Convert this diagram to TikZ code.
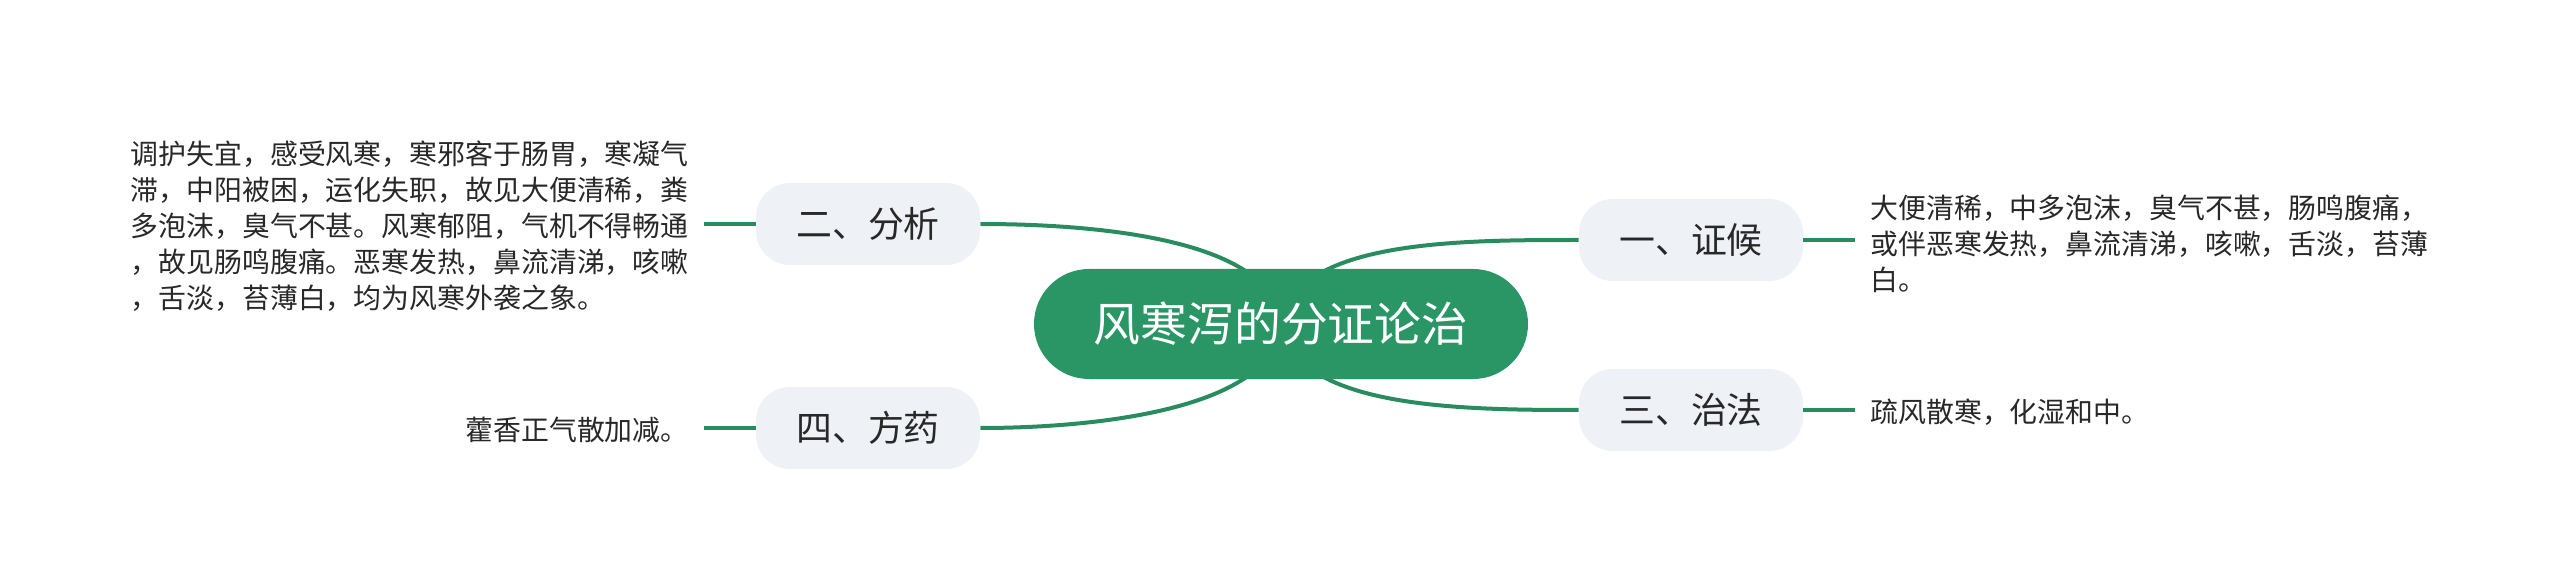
\documentclass[tikz,border=0pt]{standalone}
\usepackage{fontspec}
\newfontfamily\cjk{Noto Sans CJK SC}
\usetikzlibrary{backgrounds}
\definecolor{rootgreen}{RGB}{42,149,101}
\definecolor{linkgreen}{RGB}{40,140,95}
\definecolor{branchgray}{RGB}{238,241,245}
\definecolor{inkgray}{RGB}{40,40,40}

\begin{document}
\begin{tikzpicture}[x=0.5bp,y=-0.5bp,
   root/.style={fill=rootgreen,rounded corners=27.5bp,minimum width=247bp,
      minimum height=55bp,text=white,font=\cjk\fontsize{23.5}{28}\selectfont},
   branch/.style={fill=branchgray,rounded corners=17bp,minimum width=112bp,
      minimum height=41bp,text=inkgray,font=\cjk\fontsize{18}{22}\selectfont},
   leaf/.style={align=left,inner xsep=7.5bp,inner ysep=0pt,text=inkgray,
      font=\cjk\fontsize{14}{18}\selectfont},
   link/.style={draw=linkgreen,line width=2bp}]
   \useasboundingbox (0,0) rectangle (2560,588);

   \node[root] (root) at (1281,324) {风寒泻的分证论治};

   \node[branch] (zh) at (1691,240) {一、证候};
   \node[branch] (fx) at (868,224) {二、分析};
   \node[branch] (zf) at (1691,410) {三、治法};
   \node[branch] (fy) at (868,428) {四、方药};

   \node[leaf,anchor=west] (zht) at (1855,244)
   {大便清稀，中多泡沫，臭气不甚，肠鸣腹痛，\\
    或伴恶寒发热，鼻流清涕，咳嗽，舌淡，苔薄\\
    白。};
   \node[leaf,anchor=east] (fxt) at (704,226)
   {调护失宜，感受风寒，寒邪客于肠胃，寒凝气\\
    滞，中阳被困，运化失职，故见大便清稀，粪\\
    多泡沫，臭气不甚。风寒郁阻，气机不得畅通\\
    ，故见肠鸣腹痛。恶寒发热，鼻流清涕，咳嗽\\
    ，舌淡，苔薄白，均为风寒外袭之象。};
   \node[leaf,anchor=west] (zft) at (1855,412) {疏风散寒，化湿和中。};
   \node[leaf,anchor=east] (fyt) at (704,430) {藿香正气散加减。};

   \begin{pgfonlayer}{background}
   \draw[link] (root.center) .. controls +(14,-84) and +(-120,0) .. (zh.west);
   \draw[link] (root.center) .. controls +(-6,-84) and +(120,0) .. (fx.east);
   \draw[link] (root.center) .. controls +(14,84) and +(-120,0) .. (zf.west);
   \draw[link] (root.center) .. controls +(-6,84) and +(120,0) .. (fy.east);
   \end{pgfonlayer}

   \draw[link] (zh.east) -- (zh.east -| zht.west);
   \draw[link] (fx.west) -- (fx.west -| fxt.east);
   \draw[link] (zf.east) -- (zf.east -| zft.west);
   \draw[link] (fy.west) -- (fy.west -| fyt.east);

 \end{tikzpicture}
\end{document}
